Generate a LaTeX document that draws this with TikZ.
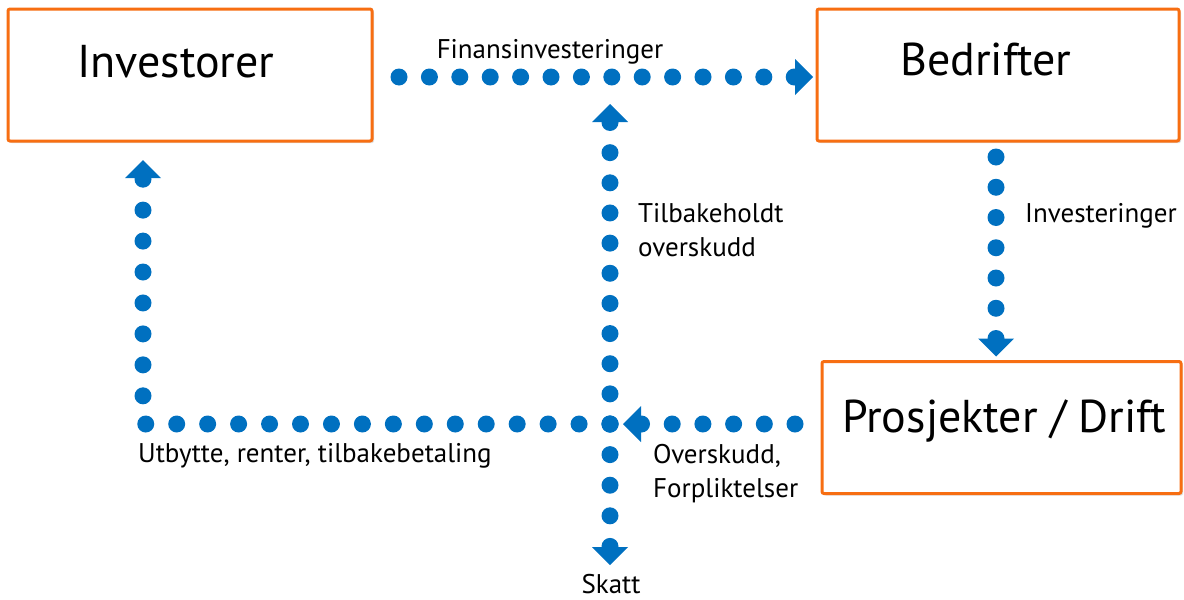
\documentclass[tikz,border=0pt]{standalone}
\usepackage{fontspec}
\setmainfont{PT Sans}
\usetikzlibrary{arrows.meta,shadows}
\definecolor{boxorange}{RGB}{247,110,18}
\definecolor{flowblue}{RGB}{0,112,192}

\begin{document}
\begin{tikzpicture}[x=1pt,y=-1pt,
  box/.style={draw=boxorange, line width=3pt, rounded corners=2pt, fill=white,
    minimum width=#1, minimum height=132pt, inner sep=0pt,
    drop shadow={shadow xshift=2pt,shadow yshift=-2pt,opacity=0.25}},
  big/.style={font=\fontsize{46}{50}\selectfont, inner sep=0pt, anchor=base west},
  lbl/.style={font=\fontsize{27}{34}\selectfont, inner sep=0pt, anchor=base west, align=left},
  flow/.style={draw=flowblue, line width=17pt, line cap=round, dash pattern=on 0pt off #1,
    -{Triangle[length=18pt,width=36pt,line width=0pt]}},
  flow/.default=30.5pt]
\useasboundingbox (0,0) rectangle (1184,600);

% boxes
\node[box=364pt] (inv) at (190,75) {};
\node[box=362pt] (bed) at (998,75) {};
\node[box=359pt] (prj) at (1001.5,427.5) {};

\node[big] (invt) at (77,77) {Investorer};
\node[big] (bedt) at (900,75) {Bedrifter};
\node[big] (prjt) at (842,432) {Prosjekter / Drift};

% junction and free ends
\coordinate (J) at (610,424);
\coordinate (up) at (610,104);
\coordinate (down) at (610,565);

% flows (dot spacing chosen so a dot sits under each arrowhead)
\draw[flow=30.4pt] ([xshift=25.5pt,yshift=-2pt]inv.east) -- ([xshift=-2.5pt,yshift=-2pt]bed.west);
\draw[flow=30.25pt] ([xshift=-2pt,yshift=-14.5pt]bed.south) -- ([xshift=-5.5pt,yshift=3.5pt]prj.north);
\draw[flow=30.7pt] ([xshift=-25.5pt]J -| prj.west) -- ([xshift=13pt]J);
\draw[flow=30.95pt, shorten >=17.5pt] (J) -| ([xshift=136.5pt]inv.south west);
\draw[flow=30.15pt] (J) -- (up);
\draw[flow=30.6pt] (J) -- (down);

% labels
\node[lbl, anchor=base] (l1) at (550,58) {Finansinvesteringer};
\node[lbl] (l2) at (1025,222) {Investeringer};
\node[lbl] (l3) at (638,256) {Tilbakeholdt\\overskudd};
\node[lbl] (l4) at (653,497) {Overskudd,\\Forpliktelser};
\node[lbl] (l5) at (138,462) {Utbytte, renter, tilbakebetaling};
\node[lbl, anchor=base] (l6) at (611,593) {Skatt};
\end{tikzpicture}
\end{document}
